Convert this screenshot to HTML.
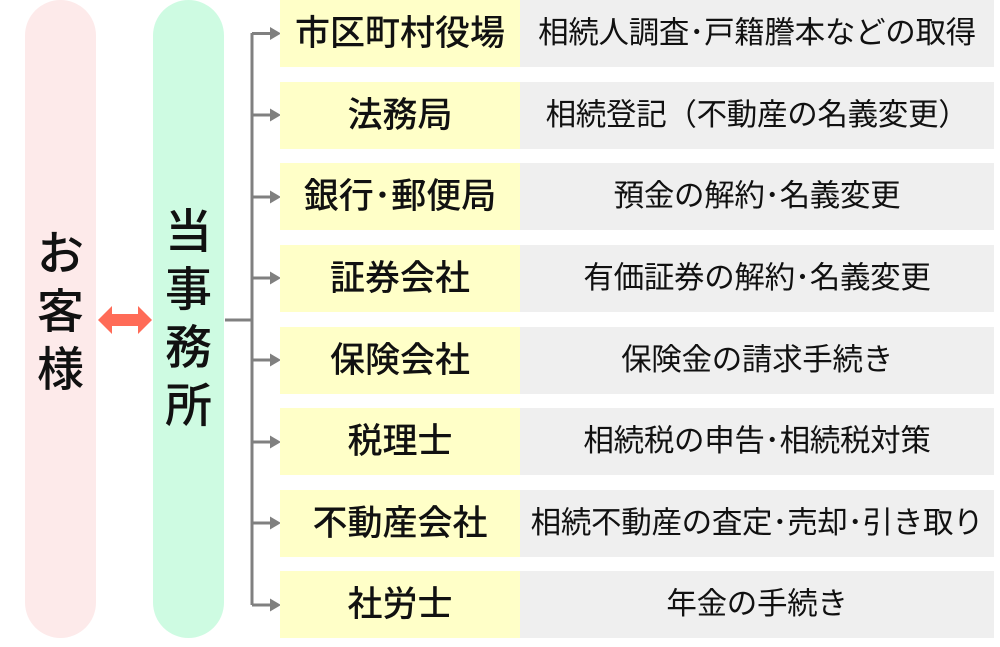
<!DOCTYPE html>
<html><head><meta charset="utf-8"><style>
body{margin:0;width:1000px;height:647px;background:#fff;position:relative;overflow:hidden;font-family:"Liberation Sans","Noto Sans CJK JP",sans-serif;color:#111}
.pill{position:absolute;top:0;height:638px;width:71px}
.vt{position:absolute;left:0;width:71px;text-align:center;font-size:47px;line-height:58px;font-weight:500}
.row{position:absolute;left:280px;height:67px;width:714px}
.l{position:absolute;left:0;top:0;width:240px;height:67px;background:#ffffc8;text-align:center;line-height:67px;font-size:35px;font-weight:500;white-space:nowrap}
.r{position:absolute;left:240px;top:0;width:474px;height:67px;background:#efefef;text-align:center;line-height:67px;font-size:30.5px;white-space:nowrap;letter-spacing:-0.3px}
</style></head><body>
<div class="pill" style="left:25px;background:#fdeaea;border-radius:36px"><div class="vt" style="top:225px">お<br>客<br>様</div></div>
<div class="pill" style="left:153px;background:#cefbe2;border-radius:36px"><div class="vt" style="top:203px">当<br>事<br>務<br>所</div></div>
<svg style="position:absolute;left:0;top:0" width="1000" height="647">
<g fill="#ff6b57"><polygon points="98,320 112,306 112,314 138,314 138,306 152,320 138,334 138,326 112,326 112,334"/></g>
<g stroke="#808080" stroke-width="3" fill="none">
<line x1="225" y1="320" x2="252" y2="320"/>
<line x1="252" y1="33" x2="252" y2="605"/>
</g>
<g fill="#808080" stroke="#808080" stroke-width="3">
<line x1="252" y1="33.5" x2="272" y2="33.5"/><polygon stroke="none" points="270,27 281,33.5 270,40"/>
<line x1="252" y1="115" x2="272" y2="115"/><polygon stroke="none" points="270,108.5 281,115 270,121.5"/>
<line x1="252" y1="197" x2="272" y2="197"/><polygon stroke="none" points="270,190.5 281,197 270,203.5"/>
<line x1="252" y1="278" x2="272" y2="278"/><polygon stroke="none" points="270,271.5 281,278 270,284.5"/>
<line x1="252" y1="360" x2="272" y2="360"/><polygon stroke="none" points="270,353.5 281,360 270,366.5"/>
<line x1="252" y1="442" x2="272" y2="442"/><polygon stroke="none" points="270,435.5 281,442 270,448.5"/>
<line x1="252" y1="523" x2="272" y2="523"/><polygon stroke="none" points="270,516.5 281,523 270,529.5"/>
<line x1="252" y1="605" x2="272" y2="605"/><polygon stroke="none" points="270,598.5 281,605 270,611.5"/>
</g>
</svg>
<div class="row" style="top:0"><div class="l">市区町村役場</div><div class="r">相続人調査･戸籍謄本などの取得</div></div>
<div class="row" style="top:82px"><div class="l">法務局</div><div class="r">相続登記（不動産の名義変更）</div></div>
<div class="row" style="top:163px"><div class="l">銀行･郵便局</div><div class="r">預金の解約･名義変更</div></div>
<div class="row" style="top:245px"><div class="l">証券会社</div><div class="r">有価証券の解約･名義変更</div></div>
<div class="row" style="top:327px"><div class="l">保険会社</div><div class="r">保険金の請求手続き</div></div>
<div class="row" style="top:408px"><div class="l">税理士</div><div class="r">相続税の申告･相続税対策</div></div>
<div class="row" style="top:490px"><div class="l">不動産会社</div><div class="r">相続不動産の査定･売却･引き取り</div></div>
<div class="row" style="top:571px"><div class="l">社労士</div><div class="r">年金の手続き</div></div>
</body></html>
